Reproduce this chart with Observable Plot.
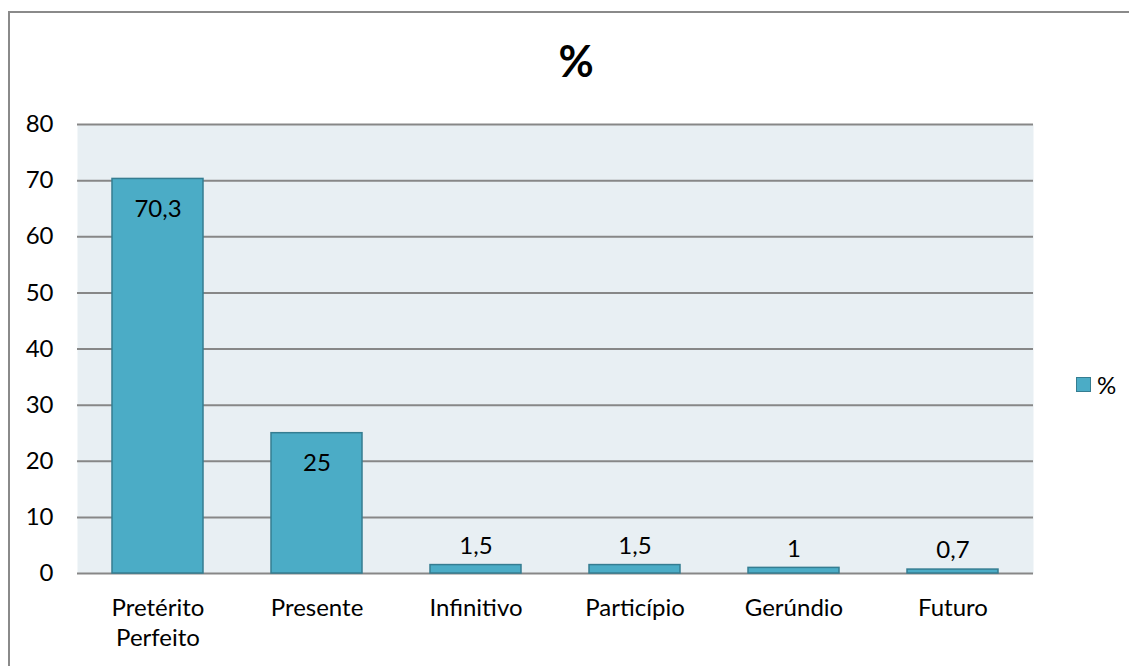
<!DOCTYPE html>
<html>
<head>
<meta charset="utf-8">
<script src="https://cdn.jsdelivr.net/npm/d3@7"></script>
<script src="https://cdn.jsdelivr.net/npm/@observablehq/plot@0.6"></script>
<style>
  html, body { margin: 0; padding: 0; background: #fff; overflow: hidden; }
  body { width: 1129px; height: 666px; position: relative; font-family: Lato, "Open Sans", sans-serif; }
  #frame { position: absolute; left: 8px; top: 11px; width: 1200px; height: 700px; border: 2px solid #8a8a8a; box-sizing: border-box; }
  #title { position: absolute; left: 0; width: 1152px; top: 36px; line-height: 50px; text-align: center; font-size: 43px; font-weight: bold; color: #000; }
  #legend { position: absolute; left: 1076px; top: 369px; height: 30px; font-size: 24px; color: #000; display: flex; align-items: center; }
  #legend .sw { width: 15px; height: 15px; background: #4bacc6; border: 1.5px solid #357d91; box-sizing: border-box; margin-right: 6px; }
  #chart { position: absolute; left: 0; top: 0; }
</style>
</head>
<body>
<div id="frame"></div>
<div id="chart"></div>
<div id="title">%</div>
<div id="legend"><div class="sw"></div><span>%</span></div>
<script>
const categories = ["Pretérito\nPerfeito", "Presente", "Infinitivo", "Particípio", "Gerúndio", "Futuro"];
const values = [70.3, 25, 1.5, 1.5, 1, 0.7];
const valueLabels = ["70,3", "25", "1,5", "1,5", "1", "0,7"];
const yTicks = [0, 10, 20, 30, 40, 50, 60, 70, 80];

const data = categories.map((c, i) => ({category: c, value: values[i], label: valueLabels[i]}));
const inside = data.filter(d => d.value > 10);
const above = data.filter(d => d.value <= 10);

const chart = Plot.plot({
  width: 1129,
  height: 666,
  marginLeft: 77,
  marginRight: 96,
  marginTop: 124,
  marginBottom: 93,
  style: {fontFamily: "Lato, 'Open Sans', sans-serif", fontSize: "24px", color: "#000", background: "transparent", overflow: "visible"},
  x: {domain: categories, paddingInner: 0.75 / 1.75, paddingOuter: 0.375 / 1.75, label: null},
  y: {domain: [0, 80], label: null},
  marks: [
    Plot.frame({fill: "#e8eff3", stroke: null}),
    Plot.ruleY(yTicks, {stroke: "#878787", strokeWidth: 2}),
    Plot.ruleX([0], {frameAnchor: "left", stroke: "#878787", strokeWidth: 2}),
    Plot.barY(data, {x: "category", y: "value", fill: "#4bacc6", stroke: "#357d91", strokeWidth: 1.5}),
    Plot.text(inside, {x: "category", y: "value", text: "label", dy: 30, fontSize: 24, fill: "#000"}),
    Plot.text(above, {x: "category", y: "value", text: "label", dy: -19, fontSize: 24, fill: "#000"}),
    Plot.axisY({ticks: yTicks, tickSize: 0, tickPadding: 24, fontSize: 24, textAnchor: "end"}),
    Plot.axisX({tickSize: 0, tickPadding: 21, fontSize: 24, lineHeight: 1.25})
  ]
});
document.getElementById("chart").appendChild(chart);
</script>
</body>
</html>
